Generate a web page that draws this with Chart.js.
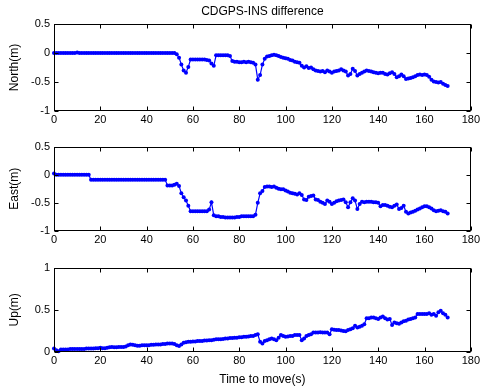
<!DOCTYPE html>
<html>
<head>
<meta charset="utf-8">
<script src="https://cdn.jsdelivr.net/npm/chart.js@4"></script>
<style>
body { margin: 0; background: #fff; }
#wrap { position: relative; width: 482px; height: 391px; background: #fff; }
canvas { position: absolute; left: 0; }
</style>
</head>
<body>
<div id="wrap">
  <canvas id="northChart" width="482" height="131" style="top:0px"></canvas>
  <canvas id="eastChart" width="482" height="115" style="top:136px"></canvas>
  <canvas id="upChart" width="482" height="134" style="top:257px"></canvas>
</div>
<script>
// one sample per second, 0..170 s
const time = Array.from({ length: 171 }, (_, i) => i);

const north = [
  0, 0, 0, 0, 0, 0, 0, 0, 0, 0,
  0.01, 0, 0, 0, 0, 0, 0, 0, 0, 0,
  0, 0, 0, 0, 0, 0, 0, 0, 0, 0,
  0, 0, 0, 0, 0, 0, 0, 0, 0, 0,
  0, 0, 0, 0, 0, 0, 0, 0, 0, 0,
  0, 0, 0, -0.02, -0.08, -0.2, -0.3, -0.34, -0.24, -0.11,
  -0.11, -0.11, -0.11, -0.11, -0.11, -0.11, -0.12, -0.13, -0.18, -0.22,
  -0.04, -0.04, -0.04, -0.04, -0.04, -0.04, -0.05, -0.14, -0.15, -0.15,
  -0.16, -0.16, -0.15, -0.16, -0.15, -0.16, -0.17, -0.2, -0.46, -0.38,
  -0.2, -0.1, -0.06, -0.05, -0.04, -0.03, -0.04, -0.05, -0.07, -0.08,
  -0.09, -0.1, -0.12, -0.13, -0.15, -0.16, -0.17, -0.22, -0.25, -0.23,
  -0.26, -0.25, -0.28, -0.3, -0.31, -0.32, -0.31, -0.33, -0.3, -0.32,
  -0.34, -0.32, -0.31, -0.3, -0.28, -0.3, -0.32, -0.39, -0.36, -0.27,
  -0.31, -0.39, -0.36, -0.34, -0.32, -0.3, -0.31, -0.32, -0.33, -0.34,
  -0.35, -0.34, -0.34, -0.36, -0.37, -0.35, -0.33, -0.36, -0.42, -0.4,
  -0.37, -0.4, -0.45, -0.44, -0.43, -0.42, -0.4, -0.38, -0.37, -0.38,
  -0.37, -0.38, -0.41, -0.46, -0.49, -0.5, -0.51, -0.5, -0.53, -0.55,
  -0.57
];

const east = [
  0.02, 0, 0, 0, 0, 0, 0, 0, 0, 0,
  0, 0, 0, 0, 0, 0, -0.09, -0.09, -0.09, -0.09,
  -0.09, -0.09, -0.09, -0.09, -0.09, -0.09, -0.09, -0.09, -0.09, -0.09,
  -0.09, -0.09, -0.09, -0.09, -0.09, -0.09, -0.09, -0.09, -0.09, -0.09,
  -0.09, -0.09, -0.09, -0.09, -0.09, -0.09, -0.09, -0.09, -0.09, -0.19,
  -0.19, -0.19, -0.18, -0.16, -0.2, -0.33, -0.4, -0.46, -0.55, -0.65,
  -0.65, -0.65, -0.65, -0.65, -0.65, -0.65, -0.65, -0.62, -0.49, -0.72,
  -0.74, -0.74, -0.75, -0.75, -0.76, -0.76, -0.76, -0.76, -0.76, -0.75,
  -0.75, -0.74, -0.74, -0.74, -0.74, -0.74, -0.74, -0.71, -0.5, -0.33,
  -0.29, -0.22, -0.21, -0.21, -0.22, -0.21, -0.23, -0.25, -0.26, -0.26,
  -0.28, -0.3, -0.32, -0.33, -0.34, -0.35, -0.33, -0.36, -0.44, -0.45,
  -0.39, -0.38, -0.37, -0.44, -0.45, -0.48, -0.5, -0.52, -0.46, -0.48,
  -0.52, -0.5, -0.47, -0.46, -0.45, -0.44, -0.49, -0.58, -0.49, -0.42,
  -0.46, -0.61, -0.52, -0.48, -0.49, -0.48, -0.48, -0.48, -0.49, -0.49,
  -0.5, -0.56, -0.54, -0.54, -0.55, -0.57, -0.58, -0.55, -0.53, -0.61,
  -0.59, -0.55, -0.66, -0.69, -0.67, -0.66, -0.64, -0.62, -0.6, -0.58,
  -0.56, -0.56, -0.58, -0.6, -0.63, -0.65, -0.64, -0.63, -0.65, -0.66,
  -0.69
];

const up = [
  0.04, 0.02, 0.01, 0.03, 0.03, 0.03, 0.03, 0.035, 0.035, 0.035,
  0.035, 0.035, 0.035, 0.035, 0.04, 0.04, 0.04, 0.04, 0.045, 0.045,
  0.05, 0.045, 0.045, 0.05, 0.055, 0.06, 0.055, 0.055, 0.06, 0.06,
  0.06, 0.065, 0.08, 0.09, 0.085, 0.08, 0.075, 0.075, 0.08, 0.08,
  0.08, 0.08, 0.085, 0.085, 0.09, 0.09, 0.09, 0.095, 0.095, 0.1,
  0.1, 0.1, 0.095, 0.08, 0.07, 0.09, 0.11, 0.115, 0.12, 0.12,
  0.125, 0.125, 0.13, 0.13, 0.13, 0.135, 0.135, 0.14, 0.14, 0.145,
  0.15, 0.15, 0.15, 0.155, 0.16, 0.16, 0.165, 0.165, 0.17, 0.17,
  0.175, 0.175, 0.18, 0.18, 0.185, 0.19, 0.19, 0.2, 0.21, 0.12,
  0.1, 0.13, 0.14, 0.15, 0.16, 0.15, 0.14, 0.17, 0.2, 0.19,
  0.18, 0.185, 0.19, 0.19, 0.2, 0.2, 0.2, 0.14, 0.16, 0.19,
  0.2, 0.21, 0.23, 0.23, 0.23, 0.235, 0.23, 0.23, 0.23, 0.21,
  0.27, 0.265, 0.26, 0.26, 0.255, 0.25, 0.245, 0.26, 0.27, 0.28,
  0.31, 0.29, 0.3, 0.31, 0.33, 0.4, 0.4, 0.41, 0.41, 0.4,
  0.39, 0.41, 0.42, 0.4, 0.385, 0.39, 0.32, 0.35, 0.34, 0.335,
  0.35, 0.365, 0.37, 0.385, 0.39, 0.4, 0.41, 0.45, 0.45, 0.45,
  0.45, 0.45, 0.46, 0.44, 0.45, 0.43, 0.47, 0.49, 0.46, 0.44,
  0.41
];

const xTicks = [0, 20, 40, 60, 80, 100, 120, 140, 160, 180];
const neTicks = [-1, -0.5, 0, 0.5];
const upTicks = [0, 0.5, 1];

Chart.defaults.font.family = '"Liberation Sans", Arial, sans-serif';
Chart.defaults.font.size = 11;
Chart.defaults.color = '#000';

// box around the plot with inward tick marks, like the original figure
const boxAxes = {
  id: 'boxAxes',
  afterDatasetsDraw(chart) {
    const { ctx, chartArea: a, scales } = chart;
    const L = Math.round(a.left) + 0.5, R = Math.round(a.right) - 0.5;
    const T = Math.round(a.top) + 0.5, B = Math.round(a.bottom) - 0.5;
    ctx.save();
    ctx.strokeStyle = '#000';
    ctx.lineWidth = 1;
    ctx.beginPath();
    scales.x.ticks.forEach(t => {
      const p = Math.round(scales.x.getPixelForValue(t.value)) + 0.5;
      ctx.moveTo(p, B); ctx.lineTo(p, B - 4);
      ctx.moveTo(p, T); ctx.lineTo(p, T + 4);
    });
    scales.y.ticks.forEach(t => {
      const p = Math.round(scales.y.getPixelForValue(t.value)) + 0.5;
      ctx.moveTo(L, p); ctx.lineTo(L + 4, p);
      ctx.moveTo(R, p); ctx.lineTo(R - 4, p);
    });
    ctx.stroke();
    ctx.strokeRect(L, T, R - L, B - T);
    ctx.restore();
  }
};

function makeChart(id, values, yLabel, yTicks, opts) {
  const ctx = document.getElementById(id).getContext('2d');
  return new Chart(ctx, {
    type: 'line',
    data: {
      datasets: [{
        data: time.map((t, i) => ({ x: t, y: values[i] })),
        borderColor: '#0000ff',
        backgroundColor: '#0000ff',
        borderWidth: 1.2,
        pointRadius: 2,
        pointBorderWidth: 0,
        tension: 0,
        clip: 3
      }]
    },
    options: {
      responsive: false,
      animation: false,
      layout: { padding: { top: opts.padTop, right: 11, left: 0, bottom: 0 } },
      plugins: {
        legend: { display: false },
        tooltip: { enabled: false },
        title: opts.title ? {
          display: true,
          fullSize: false,
          text: opts.title,
          font: { size: 12, weight: 'normal' },
          color: '#000',
          padding: { top: 4, bottom: 5.6 }
        } : { display: false }
      },
      scales: {
        x: {
          type: 'linear',
          min: 0,
          max: 180,
          afterBuildTicks: s => { s.ticks = xTicks.map(v => ({ value: v })); },
          grid: { display: false, drawTicks: false },
          border: { display: false },
          ticks: { padding: 2, maxRotation: 0, callback: v => String(v) },
          title: opts.xTitle ? {
            display: true,
            text: opts.xTitle,
            font: { size: 12 },
            padding: { top: 0, bottom: 4 }
          } : { display: false },
          afterFit: s => { s.height = opts.xHeight; }
        },
        y: {
          min: yTicks[0],
          max: yTicks[yTicks.length - 1],
          afterBuildTicks: s => { s.ticks = yTicks.map(v => ({ value: v })); },
          grid: { display: false, drawTicks: false },
          border: { display: false },
          ticks: { padding: 4, callback: v => String(v) },
          title: {
            display: true,
            text: yLabel,
            font: { size: 12 },
            padding: { top: 7, bottom: 7 }
          },
          afterFit: s => { s.width = 54; }
        }
      }
    },
    plugins: [boxAxes]
  });
}

makeChart('northChart', north, 'North(m)', neTicks,
  { title: 'CDGPS-INS difference', padTop: 0, xHeight: 20 });
makeChart('eastChart', east, 'East(m)', neTicks,
  { padTop: 8, xHeight: 20 });
makeChart('upChart', up, 'Up(m)', upTicks,
  { padTop: 8, xHeight: 39, xTitle: 'Time to move(s)' });
</script>
</body>
</html>
